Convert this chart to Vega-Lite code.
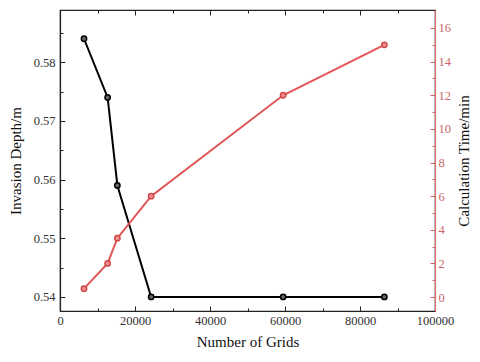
{
  "$schema": "https://vega.github.io/schema/vega-lite/v6.json",
  "width": 375,
  "height": 301,
  "autosize": "none",
  "padding": {"left": 60, "top": 10, "right": 45, "bottom": 51},
  "background": "white",
  "config": {
    "font": "Liberation Serif",
    "view": {"stroke": "#222", "strokeWidth": 1.2},
    "axis": {"grid": false, "labelFont": "Liberation Serif", "titleFont": "Liberation Serif", "labelFontSize": 12.5, "titleFontSize": 15, "titleFontWeight": "normal", "labelColor": "#333", "titleColor": "#111", "domainColor": "#222", "tickColor": "#222", "domainWidth": 1.2}
  },
  "data": {
    "values": [
      {"grids": 6400, "depth": 0.584, "time": 0.5},
      {"grids": 12700, "depth": 0.574, "time": 2.0},
      {"grids": 15300, "depth": 0.559, "time": 3.5},
      {"grids": 24300, "depth": 0.540, "time": 6.0},
      {"grids": 59500, "depth": 0.540, "time": 12.0},
      {"grids": 86500, "depth": 0.540, "time": 15.0}
    ]
  },
  "layer": [
    {
      "mark": {"type": "line", "color": "#000", "strokeWidth": 2, "point": {"filled": true, "fill": "#666", "stroke": "#000", "strokeWidth": 1.5, "size": 28}},
      "encoding": {
        "x": {"field": "grids", "type": "quantitative", "scale": {"domain": [0, 100000], "nice": false},
          "axis": {"orient": "bottom", "title": "Number of Grids", "values": [0,10000,20000,30000,40000,50000,60000,70000,80000,90000,100000],
            "labelExpr": "datum.value % 20000 == 0 ? format(datum.value, 'd') : ''",
            "tickSize": {"condition": {"test": "datum.value % 20000 == 0", "value": -5}, "value": -3},
            "labelPadding": 8, "titlePadding": 8, "labelFlush": false}},
        "y": {"field": "depth", "type": "quantitative", "scale": {"domain": [0.5376, 0.5889], "nice": false, "zero": false},
          "axis": {"orient": "left", "title": "Invasion Depth/m", "values": [0.54,0.545,0.55,0.555,0.56,0.565,0.57,0.575,0.58,0.585],
            "labelExpr": "round(datum.value*1000) % 10 == 0 ? format(datum.value, '.2f') : ''",
            "tickSize": {"condition": {"test": "round(datum.value*1000) % 10 == 0", "value": -5}, "value": -3},
            "labelPadding": 10, "titlePadding": 10}}
      }
    },
    {
      "mark": {"type": "line", "color": "#e05555", "strokeWidth": 2, "point": {"filled": true, "fill": "#f09090", "stroke": "#d04848", "strokeWidth": 1.5, "size": 28}},
      "encoding": {
        "x": {"field": "grids", "type": "quantitative", "scale": {"domain": [0, 100000], "nice": false},
          "axis": {"orient": "top", "title": null, "labels": false, "values": [0,10000,20000,30000,40000,50000,60000,70000,80000,90000,100000],
            "tickSize": {"condition": {"test": "datum.value % 20000 == 0", "value": -5}, "value": -3}}},
        "y": {"field": "time", "type": "quantitative", "scale": {"domain": [-0.83, 17.07], "nice": false, "zero": false},
          "axis": {"orient": "right", "title": "Calculation Time/min", "titleAngle": 270, "titleBaseline": "top", "values": [0,1,2,3,4,5,6,7,8,9,10,11,12,13,14,15,16],
            "labelExpr": "datum.value % 2 == 0 ? format(datum.value, 'd') : ''",
            "tickSize": {"condition": {"test": "datum.value % 2 == 0", "value": -5}, "value": -3},
            "domainColor": "#e07070", "tickColor": "#d06060", "labelColor": "#c86868",
            "labelPadding": 8, "titlePadding": 6}}
      }
    }
  ],
  "resolve": {"scale": {"y": "independent", "x": "independent"}, "axis": {"x": "independent", "y": "independent"}}
}
